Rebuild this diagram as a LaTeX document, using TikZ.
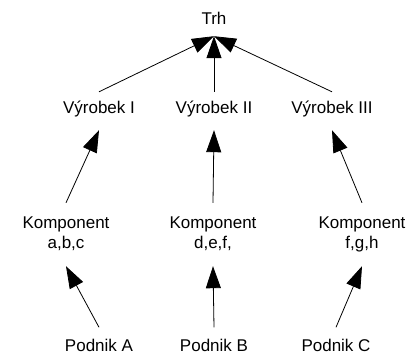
\documentclass[tikz,border=0pt]{standalone}
\usepackage{fontspec}
\setmainfont{Liberation Sans}
\usetikzlibrary{arrows.meta}
\begin{document}
\begin{tikzpicture}[x=1bp,y=1bp,
  lbl/.style={inner sep=0pt, anchor=base, font=\fontsize{17bp}{20bp}\selectfont},
  toplbl/.style={lbl, text height=12bp, text depth=12bp},
  prodlbl/.style={lbl, text height=21bp, text depth=17bp},
  complbl/.style={lbl, text height=25bp, text depth=38bp},
  firmlbl/.style={lbl, text height=24bp, text depth=0bp},
  arr/.style={-{Triangle[length=22bp,width=15bp]}, line width=0.8bp, black}]
\useasboundingbox (0,0) rectangle (412,355);
\node[toplbl] (trh) at (214,331) {Trh};
\node[prodlbl] (v1) at (99,242) {Výrobek I};
\node[prodlbl] (v2) at (214,242) {Výrobek II};
\node[prodlbl] (v3) at (332,242) {Výrobek III};
\node[complbl] (k1) at (66,127) {\begin{tabular}[t]{@{}c@{}}Komponent\\a,b,c\end{tabular}};
\node[complbl] (k2) at (213,127) {\begin{tabular}[t]{@{}c@{}}Komponent\\d,e,f,\end{tabular}};
\node[complbl] (k3) at (362,127) {\begin{tabular}[t]{@{}c@{}}Komponent\\f,g,h\end{tabular}};
\node[firmlbl] (p1) at (99,3.5) {Podnik A};
\node[firmlbl] (p2) at (214,3.5) {Podnik B};
\node[firmlbl] (p3) at (336,3.5) {Podnik C};
\draw[arr] (v1.north) -- (trh.south);
\draw[arr] (v2.north) -- (trh.south);
\draw[arr] (v3.north) -- (trh.south);
\draw[arr] (k1.north) -- (v1.south);
\draw[arr] (k2.north) -- (v2.south);
\draw[arr] (k3.north) -- (v3.south);
\draw[arr] (p1.north) -- (k1.south);
\draw[arr] (p2.north) -- (k2.south);
\draw[arr] (p3.north) -- (k3.south);
\end{tikzpicture}
\end{document}
